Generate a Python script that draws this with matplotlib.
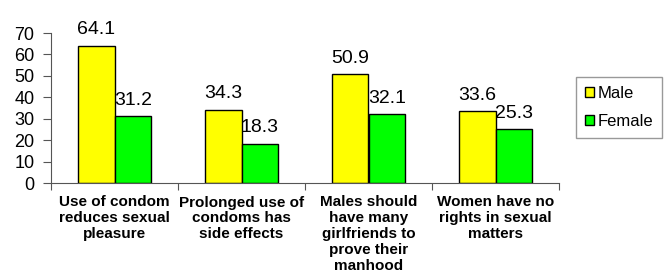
import matplotlib
matplotlib.use("Agg")
import matplotlib.pyplot as plt
import numpy as np

categories = ["Use of condom\nreduces sexual\npleasure",
              "Prolonged use of\ncondoms has\nside effects",
              "Males should\nhave many\ngirlfriends to\nprove their\nmanhood",
              "Women have no\nrights in sexual\nmatters"]
male = [64.1, 34.3, 50.9, 33.6]
female = [31.2, 18.3, 32.1, 25.3]
yticks = [0, 10, 20, 30, 40, 50, 60, 70]

plt.rcParams['font.family'] = ['Liberation Sans', 'DejaVu Sans']

fig = plt.figure(figsize=(6.64, 2.78), dpi=100)
ax = fig.add_axes([51/664, 1-183/278, 508/664, 150/278])

x = np.arange(len(categories))
w = 0.29
ax.bar(x - w/2, male, w, color='#ffff00', edgecolor='black', linewidth=1, label='Male')
ax.bar(x + w/2, female, w, color='#00ff00', edgecolor='black', linewidth=1, label='Female')

for xi, v in zip(x - w/2, male):
    ax.text(xi, v + 3.4, f"{v}", ha='center', va='bottom', fontsize=14)
for xi, v in zip(x + w/2, female):
    ax.text(xi, v + 3.4, f"{v}", ha='center', va='bottom', fontsize=14)

ax.set_xlim(-0.5, len(categories) - 0.5)
ax.set_ylim(0, 70)
ax.set_yticks(yticks)
ax.set_yticklabels([str(t) for t in yticks], fontsize=13)
ax.set_xticks(np.arange(len(categories) + 1) - 0.5)
ax.set_xticklabels([])
ax.set_xticks(x, minor=True)
ax.set_xticklabels(categories, minor=True, fontsize=11, fontweight='bold', linespacing=1.18)
ax.tick_params(axis='x', which='minor', length=0, pad=9)
ax.tick_params(axis='x', which='major', length=5, direction='out', color='#555555')
ax.tick_params(axis='y', length=6, direction='out', pad=6, color='#555555')
ax.spines['top'].set_visible(False)
ax.spines['right'].set_visible(False)
ax.spines['left'].set_color('#555555')
ax.spines['bottom'].set_color('#555555')

leg = fig.legend(loc='upper left', bbox_to_anchor=(576/664, 1-77/278), fontsize=12,
                 frameon=True, fancybox=False, handlelength=0.55, handleheight=0.55,
                 handletextpad=0.2, labelspacing=0.75, borderpad=0.55, borderaxespad=0)
leg.get_frame().set_edgecolor('#808080')
leg.get_frame().set_linewidth(1)

fig.savefig("out.png", dpi=100)
